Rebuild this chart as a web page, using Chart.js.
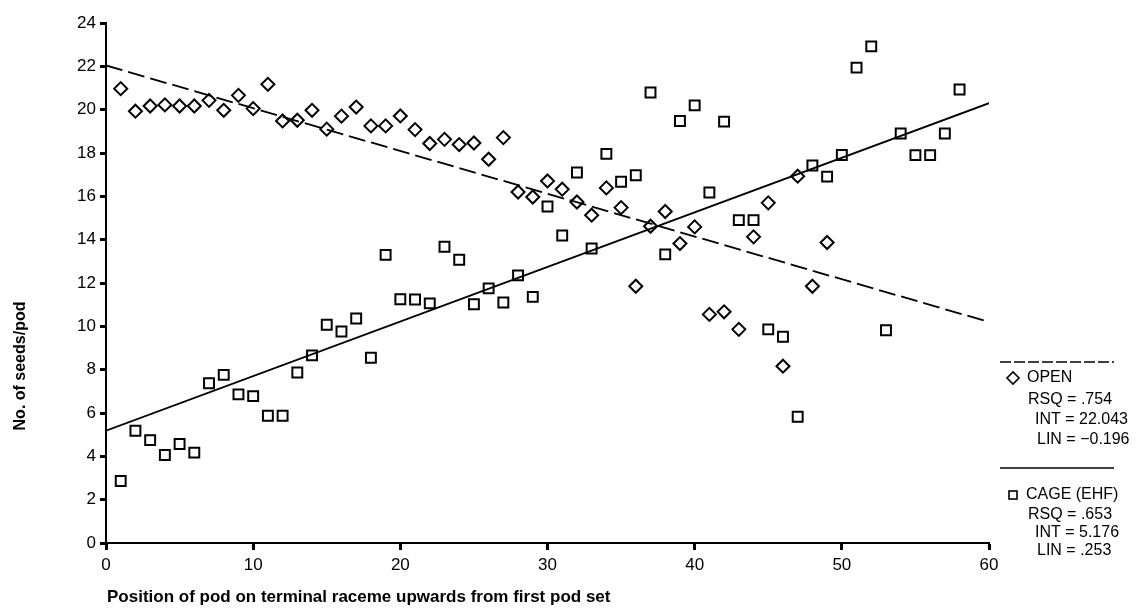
<!DOCTYPE html>
<html>
<head>
<meta charset="utf-8">
<script src="https://cdn.jsdelivr.net/npm/chart.js@4/dist/chart.umd.min.js"></script>
<style>
  html, body { margin: 0; padding: 0; background: #fff; }
  #wrap { width: 1138px; height: 614px; position: relative; }
</style>
</head>
<body>
<div id="wrap"><canvas id="seedChart"></canvas></div>
<script>
// pod position (x) and seeds per pod (y)
const openPos = [1, 2, 3, 4, 5, 6, 7, 8, 9, 10, 11, 12, 13, 14, 15, 16, 17, 18, 19, 20,
  21, 22, 23, 24, 25, 26, 27, 28, 29, 30, 31, 32, 33, 34, 35, 36, 37, 38, 39, 40,
  41, 42, 43, 44, 45, 46, 47, 48, 49];
const openSeeds = [20.97, 19.93, 20.17, 20.22, 20.17, 20.17, 20.43, 19.97, 20.66, 20.05,
  21.17, 19.48, 19.51, 19.97, 19.1, 19.7, 20.12, 19.25, 19.25, 19.71,
  19.08, 18.44, 18.63, 18.39, 18.46, 17.71, 18.71, 16.2, 15.97, 16.71,
  16.33, 15.74, 15.13, 16.39, 15.48, 11.85, 14.62, 15.3, 13.82, 14.59,
  10.55, 10.67, 9.86, 14.13, 15.7, 8.16, 16.93, 11.85, 13.87];

const cagePos = [1, 2, 3, 4, 5, 6, 7, 8, 9, 10, 11, 12, 13, 14, 15, 16, 17, 18, 19, 20,
  21, 22, 23, 24, 25, 26, 27, 28, 29, 30, 31, 32, 33, 34, 35, 36, 37, 38, 39, 40,
  41, 42, 43, 44, 45, 46, 47, 48, 49, 50, 51, 52, 53, 54, 55, 56, 57, 58];
const cageSeeds = [2.86, 5.18, 4.75, 4.06, 4.57, 4.17, 7.37, 7.76, 6.86, 6.78,
  5.87, 5.87, 7.87, 8.66, 10.07, 9.76, 10.36, 8.55, 13.3, 11.25,
  11.24, 11.06, 13.67, 13.07, 11.02, 11.75, 11.1, 12.35, 11.36, 15.53,
  14.19, 17.1, 13.59, 17.96, 16.67, 16.97, 20.79, 13.32, 19.48, 20.2,
  16.18, 19.45, 14.9, 14.9, 9.86, 9.52, 5.83, 17.42, 16.91, 17.91,
  21.94, 22.92, 9.82, 18.9, 17.9, 17.9, 18.9, 20.93];

// fitted lines, ends read at x = 0 and x = 60
const fitX = [0, 60];
const openFit = [22.04, 10.2];
const cageFit = [5.18, 20.3];

const xTicks = [0, 10, 20, 30, 40, 50, 60];
const yTicks = [0, 2, 4, 6, 8, 10, 12, 14, 16, 18, 20, 22, 24];

const openStats = ["RSQ = .754", "INT = 22.043", "LIN = \u22120.196"];
const cageStats = ["RSQ = .653", "INT = 5.176", "LIN = .253"];

const FONT = "'Liberation Sans', Arial, sans-serif";

function pts(xs, ys) {
  return xs.map((x, i) => ({ x: x, y: ys[i] }));
}

// titles and the key at the right are drawn by hand
const textPlugin = {
  id: "textPlugin",
  afterDraw(chart) {
    const ctx = chart.ctx;
    ctx.save();
    ctx.fillStyle = "#000";
    ctx.strokeStyle = "#000";

    ctx.font = "bold 17px " + FONT;
    ctx.textAlign = "left";
    ctx.textBaseline = "middle";
    ctx.fillText("Position of pod on terminal raceme upwards from first pod set", 107, 597);

    ctx.save();
    ctx.translate(21, 366);
    ctx.rotate(-Math.PI / 2);
    ctx.textAlign = "center";
    ctx.font = "bold 16px " + FONT;
    ctx.fillText("No. of seeds/pod", 0, 0);
    ctx.restore();

    // key
    ctx.lineWidth = 1.5;
    ctx.setLineDash([11, 3]);
    ctx.beginPath();
    ctx.moveTo(1000, 362);
    ctx.lineTo(1114, 362);
    ctx.stroke();
    ctx.setLineDash([]);
    ctx.beginPath();
    ctx.moveTo(1000, 468);
    ctx.lineTo(1114, 468);
    ctx.stroke();

    ctx.lineWidth = 1.6;
    ctx.beginPath();
    ctx.moveTo(1007, 378);
    ctx.lineTo(1013, 372);
    ctx.lineTo(1019, 378);
    ctx.lineTo(1013, 384);
    ctx.closePath();
    ctx.stroke();
    ctx.strokeRect(1009, 491, 8, 8);

    ctx.font = "16px " + FONT;
    ctx.textAlign = "left";
    ctx.fillText("OPEN", 1027, 378);
    ctx.fillText(openStats[0], 1028, 400);
    ctx.fillText(openStats[1], 1035, 420);
    ctx.fillText(openStats[2], 1037, 440);
    ctx.fillText("CAGE (EHF)", 1026, 495);
    ctx.fillText(cageStats[0], 1028, 515);
    ctx.fillText(cageStats[1], 1035, 533);
    ctx.fillText(cageStats[2], 1037, 551);
    ctx.restore();
  }
};

new Chart(document.getElementById("seedChart"), {
  type: "scatter",
  data: {
    datasets: [
      {
        label: "OPEN fit",
        type: "line",
        data: pts(fitX, openFit),
        borderColor: "#000",
        borderWidth: 1.8,
        borderDash: [17, 6],
        pointRadius: 0,
        fill: false
      },
      {
        label: "CAGE fit",
        type: "line",
        data: pts(fitX, cageFit),
        borderColor: "#000",
        borderWidth: 1.8,
        pointRadius: 0,
        fill: false
      },
      {
        label: "OPEN",
        data: pts(openPos, openSeeds),
        pointStyle: "rectRot",
        pointRadius: 6.5,
        borderColor: "#000",
        borderWidth: 2,
        backgroundColor: "rgba(0,0,0,0)"
      },
      {
        label: "CAGE (EHF)",
        data: pts(cagePos, cageSeeds),
        pointStyle: "rect",
        pointRadius: 7,
        borderColor: "#000",
        borderWidth: 2,
        backgroundColor: "rgba(0,0,0,0)"
      }
    ]
  },
  options: {
    responsive: true,
    maintainAspectRatio: false,
    animation: false,
    layout: { padding: { top: 23, right: 149, left: 0, bottom: 0 } },
    scales: {
      x: {
        type: "linear",
        min: 0,
        max: 60,
        afterBuildTicks: s => { s.ticks = xTicks.map(v => ({ value: v })); },
        afterFit: s => { s.height = 71; },
        ticks: { color: "#000", font: { family: FONT, size: 17 }, padding: 5, maxRotation: 0 },
        grid: { drawOnChartArea: false, drawTicks: true, tickLength: 7, tickWidth: 3, tickColor: "#000" },
        border: { display: true, color: "#000", width: 2 }
      },
      y: {
        min: 0,
        max: 24,
        afterBuildTicks: s => { s.ticks = yTicks.map(v => ({ value: v })); },
        afterFit: s => { s.width = 106; },
        ticks: { color: "#000", font: { family: FONT, size: 17 }, padding: 4 },
        grid: { drawOnChartArea: false, drawTicks: true, tickLength: 6, tickWidth: 3, tickColor: "#000" },
        border: { display: true, color: "#000", width: 2 }
      }
    },
    plugins: {
      legend: { display: false },
      tooltip: { enabled: false }
    }
  },
  plugins: [textPlugin]
});
</script>
</body>
</html>
